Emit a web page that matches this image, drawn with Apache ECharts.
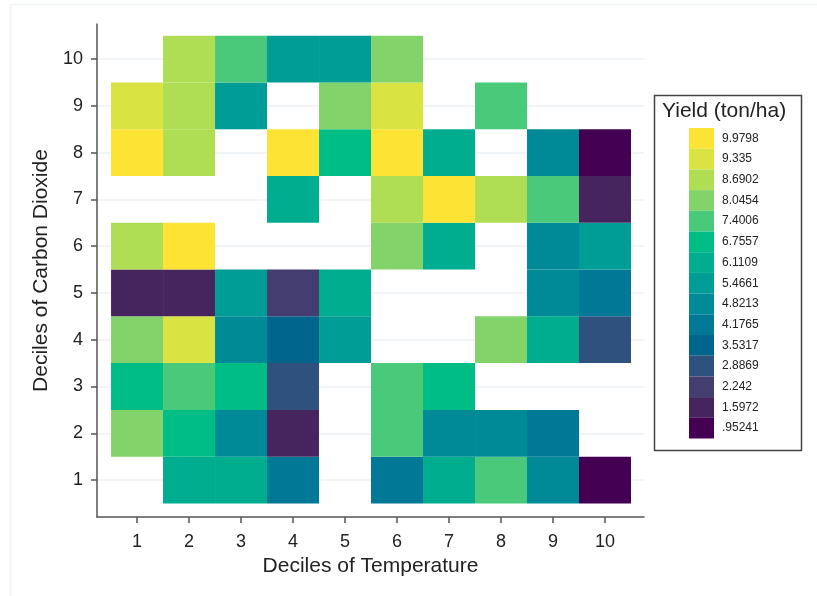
<!DOCTYPE html>
<html>
<head>
<meta charset="utf-8">
<script src="https://cdn.jsdelivr.net/npm/echarts@6/dist/echarts.min.js"></script>
<style>
html,body{margin:0;padding:0;background:#fff;}
#chart{width:817px;height:596px;}
</style>
</head>
<body>
<div id="chart"></div>
<script>
// Deciles (x = temperature, y = carbon dioxide)
const xDeciles = [1, 2, 3, 4, 5, 6, 7, 8, 9, 10];
const yDeciles = [1, 2, 3, 4, 5, 6, 7, 8, 9, 10];

// Yield (ton/ha) per CO2 decile row, indexed by temperature decile 1..10
const row1  = [null, 6.1109, 6.1109, 4.1765, null, 4.1765, 6.1109, 7.4006, 4.8213, 0.95241];
const row2  = [8.0454, 6.7557, 4.8213, 1.5972, null, 7.4006, 4.8213, 4.8213, 4.1765, null];
const row3  = [6.7557, 7.4006, 6.7557, 2.8869, null, 7.4006, 6.7557, null, null, null];
const row4  = [8.0454, 9.335, 4.8213, 3.5317, 5.4661, null, null, 8.0454, 6.1109, 2.8869];
const row5  = [1.5972, 1.5972, 5.4661, 2.242, 6.1109, null, null, null, 4.8213, 4.1765];
const row6  = [8.6902, 9.9798, null, null, null, 8.0454, 6.1109, null, 4.8213, 5.4661];
const row7  = [null, null, null, 6.1109, null, 8.6902, 9.9798, 8.6902, 7.4006, 1.5972];
const row8  = [9.9798, 8.6902, null, 9.9798, 6.7557, 9.9798, 6.1109, null, 4.8213, 0.95241];
const row9  = [9.335, 8.6902, 5.4661, null, 8.0454, 9.335, null, 7.4006, null, null];
const row10 = [null, 8.6902, 7.4006, 5.4661, 5.4661, 8.0454, null, null, null, null];
const rows = [row1, row2, row3, row4, row5, row6, row7, row8, row9, row10];

// Legend bins (low to high)
const binLabels = ['.95241', '1.5972', '2.242', '2.8869', '3.5317', '4.1765', '4.8213', '5.4661',
                   '6.1109', '6.7557', '7.4006', '8.0454', '8.6902', '9.335', '9.9798'];
const binValues = [0.95241, 1.5972, 2.242, 2.8869, 3.5317, 4.1765, 4.8213, 5.4661,
                   6.1109, 6.7557, 7.4006, 8.0454, 8.6902, 9.335, 9.9798];
const binColors = ['#440154', '#46245e', '#433d70', '#2f517e', '#00658c', '#007896', '#008a98', '#009d97',
                   '#00ad8f', '#00bd85', '#4ac97a', '#82d46a', '#afde55', '#d9e342', '#fde333'];

const data = [];
rows.forEach((r, yi) => r.forEach((v, xi) => {
  if (v !== null) data.push([xDeciles[xi], yDeciles[yi], v]);
}));

const halfStep = (binValues[1] - binValues[0]) / 2;
const pieces = binValues.map((v, i) => ({
  gt: v - halfStep, lte: v + halfStep, label: binLabels[i], color: binColors[i]
}));

const font = '"Liberation Sans", Arial, sans-serif';
const chart = echarts.init(document.getElementById('chart'), null, {renderer: 'canvas'});
chart.setOption({
  backgroundColor: '#fff',
  animation: false,
  grid: {left: 97, top: 24, right: 173, bottom: 79, containLabel: false},
  xAxis: {
    type: 'value', min: 0.23, max: 10.75,
    name: 'Deciles of Temperature', nameLocation: 'middle', nameGap: 35,
    nameTextStyle: {fontFamily: font, fontSize: 21, color: '#222'},
    axisLine: {show: true, lineStyle: {color: '#555', width: 1.5}},
    axisTick: {show: true, length: 6, customValues: xDeciles, lineStyle: {color: '#555', width: 1.5}},
    axisLabel: {customValues: xDeciles, fontFamily: font, fontSize: 18, color: '#222', margin: 16},
    splitLine: {show: false}
  },
  yAxis: {
    type: 'value', min: 0.21, max: 10.75,
    name: 'Deciles of Carbon Dioxide', nameLocation: 'middle', nameGap: 41,
    nameTextStyle: {fontFamily: font, fontSize: 21, color: '#222'},
    axisLine: {show: true, lineStyle: {color: '#555', width: 1.5}},
    axisTick: {show: true, length: 6, customValues: yDeciles, lineStyle: {color: '#555', width: 1.5}},
    axisLabel: {customValues: yDeciles, fontFamily: font, fontSize: 18, color: '#222', margin: 14},
    splitLine: {show: false}
  },
  visualMap: {
    type: 'piecewise', dimension: 2, seriesIndex: 1,
    orient: 'vertical', left: 689, top: 128, align: 'left',
    itemWidth: 25, itemHeight: 20.7, itemGap: 0, itemSymbol: 'rect',
    textGap: 8, padding: 0, selectedMode: false, hoverLink: false,
    pieces: pieces,
    textStyle: {fontFamily: font, fontSize: 12, color: '#222'}
  },
  graphic: [
    {type: 'rect', left: 8, top: 2, shape: {width: 900, height: 700},
     style: {fill: 'none', stroke: '#f0f3f5', lineWidth: 1.5}, z: 0, silent: true},
    {type: 'rect', left: 652, top: 93, shape: {width: 147, height: 355},
     style: {fill: 'none', stroke: '#444', lineWidth: 1.5}, z: 100, silent: true},
    {type: 'text', left: 662, top: 101,
     style: {text: 'Yield (ton/ha)', font: '21px ' + font, fill: '#222'}, z: 100}
  ],
  series: [
    {
      type: 'line', silent: true, data: [], symbol: 'none', z: 1,
      markLine: {
        silent: true, symbol: 'none', label: {show: false}, z: 0,
        lineStyle: {color: '#edf2f6', width: 1.5, type: 'solid'},
        data: yDeciles.map(v => ({yAxis: v}))
      }
    },
    {
      type: 'custom', z: 3,
      renderItem: function (params, api) {
        const x = api.value(0), y = api.value(1);
        const p0 = api.coord([x - 0.5, y + 0.5]);
        const p1 = api.coord([x + 0.5, y - 0.5]);
        return {
          type: 'rect',
          shape: {x: p0[0], y: p0[1], width: p1[0] - p0[0], height: p1[1] - p0[1]},
          style: {fill: api.visual('color'), stroke: null}
        };
      },
      encode: {x: 0, y: 1},
      data: data
    }
  ]
});
</script>
</body>
</html>
